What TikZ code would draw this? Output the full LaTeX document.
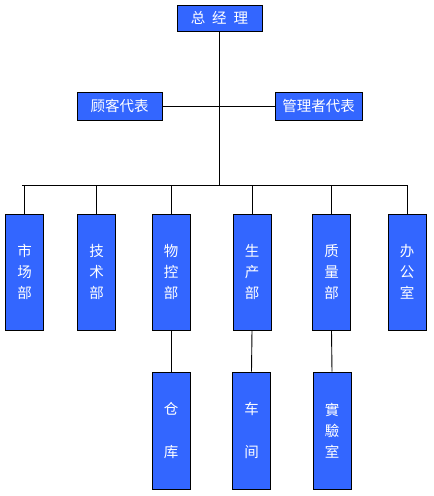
\documentclass[tikz,border=0pt]{standalone}
\usepackage{fontspec}
\newfontfamily\cjk{Noto Sans CJK SC}
\definecolor{boxblue}{RGB}{51,102,255}

\begin{document}
\begin{tikzpicture}[
  x=1pt,y=-1pt,
  box/.style={draw=black,line width=1pt,fill=boxblue,text=white,inner sep=0pt,align=center,font=\cjk\fontsize{14.5}{21}\selectfont},
  dept/.style={box,minimum width=38pt,minimum height=116pt},
  store/.style={dept,minimum height=117pt},
  link/.style={line width=0.9pt}
]
  \useasboundingbox (0,0) rectangle (434,496);

  \def\busy{185}
  \def\depty{272}

  % top level
  \node[box,minimum width=85pt,minimum height=26pt] (gm) at (219.5,18) {总\hspace{7pt}经\hspace{7pt}理};
  \node[box,minimum width=85pt,minimum height=28pt] (cust) at (119.5,106) {顾客代表};
  \node[box,minimum width=87pt,minimum height=28pt] (mrep) at (318.5,106) {管理者代表};

  % departments
  \node[dept] (mkt) at (24.5,\depty) {市\\场\\部};
  \node[dept] (tech) at (96.5,\depty) {技\\术\\部};
  \node[dept] (mat) at (171,\depty) {物\\控\\部};
  \node[dept] (prod) at (252,\depty) {生\\产\\部};
  \node[dept] (qual) at (331.5,\depty) {质\\量\\部};
  \node[dept] (off) at (407,\depty) {办\\公\\室};

  % second row
  \node[store,font=\cjk\fontsize{14.5}{43}\selectfont] (ware) at (171,430.5) {仓\\库};
  \node[store,font=\cjk\fontsize{14.5}{43}\selectfont] (shop) at (251.5,430.5) {车\\间};
  \node[store] (lab) at (332,430.5) {實\\驗\\室};

  \coordinate (busL) at (22,\busy);
  \coordinate (busR) at (407,\busy);

  \draw[link] (busL) -- (busR);
  \draw[link] (gm.south) -- (gm.south |- busL);
  \draw[link] (cust.east) -- (mrep.west);

  \foreach \d in {mkt,tech,mat,prod,qual,off}{
    \draw[link] (\d.north) -- (\d.north |- busL);
  }

  \draw[link] (mat.south) -- (ware.north);
  \draw[link] (prod.south) -- (shop.north);
  \draw[link] (qual.south) -- (lab.north);
\end{tikzpicture}
\end{document}
